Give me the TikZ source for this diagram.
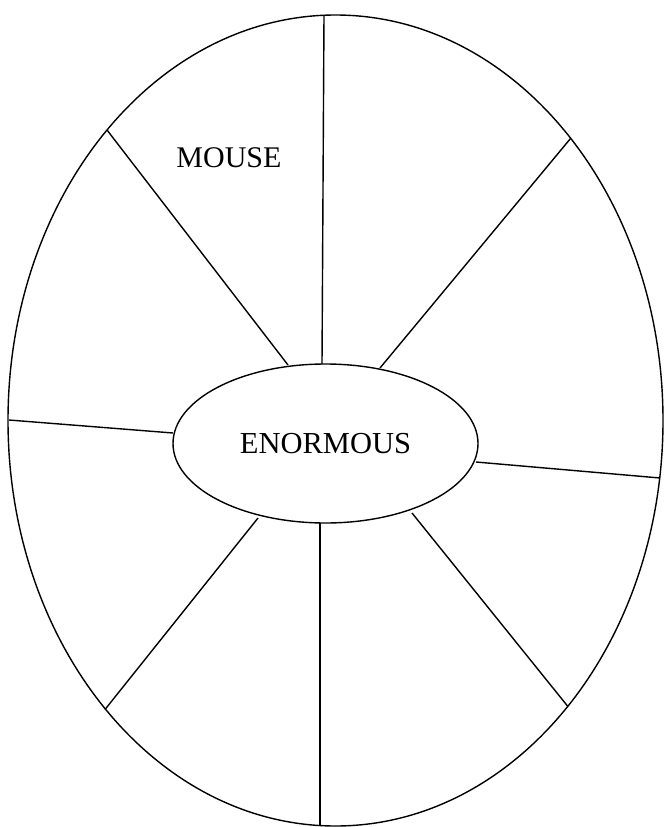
\documentclass[tikz,border=0pt]{standalone}
\usepackage{fontspec}
\setmainfont{Liberation Serif}
\usetikzlibrary{shapes.geometric}

\begin{document}
\begin{tikzpicture}[x=1pt, y=-1pt, line width=1.4pt,
          rim/.style={draw, ellipse, minimum width=655pt, minimum height=811pt, inner sep=0pt},
          hub/.style={draw, ellipse, minimum width=305pt, minimum height=159pt, inner sep=0pt,
                      font=\fontsize{30.5}{36}\selectfont},
          word/.style={font=\fontsize{30}{36}\selectfont}]
        \useasboundingbox (0,0) rectangle (664,827);
        \node[rim] (plate) at (335.5,420.5) {};
        \node[hub] (enormous) at (325.5,443.5) {ENORMOUS};
        \node[word] (mouse) at (229,158) {MOUSE};

        % ends of the spokes on the hub
        \coordinate (h1) at (322,364);
        \coordinate (h2) at (288,365);
        \coordinate (h3) at (380,368);
        \coordinate (h4) at (173,433);
        \coordinate (h5) at (476,462);
        \coordinate (h6) at (258,518);
        \coordinate (h7) at (320,523);
        \coordinate (h8) at (412,513);
        % ends of the spokes on the rim
        \coordinate (r1) at (324,15);
        \coordinate (r2) at (107,130);
        \coordinate (r3) at (570.5,138.5);
        \coordinate (r4) at (9,420);
        \coordinate (r5) at (660,478);
        \coordinate (r6) at (105,709.5);
        \coordinate (r7) at (320,825.5);
        \coordinate (r8) at (567.5,706);

        \draw (h1) -- (r1);
        \draw (h2) -- (r2);
        \draw (h3) -- (r3);
        \draw (h4) -- (r4);
        \draw (h5) -- (r5);
        \draw (h6) -- (r6);
        \draw (h7) -- (r7);
        \draw (h8) -- (r8);
      \end{tikzpicture}
\end{document}
